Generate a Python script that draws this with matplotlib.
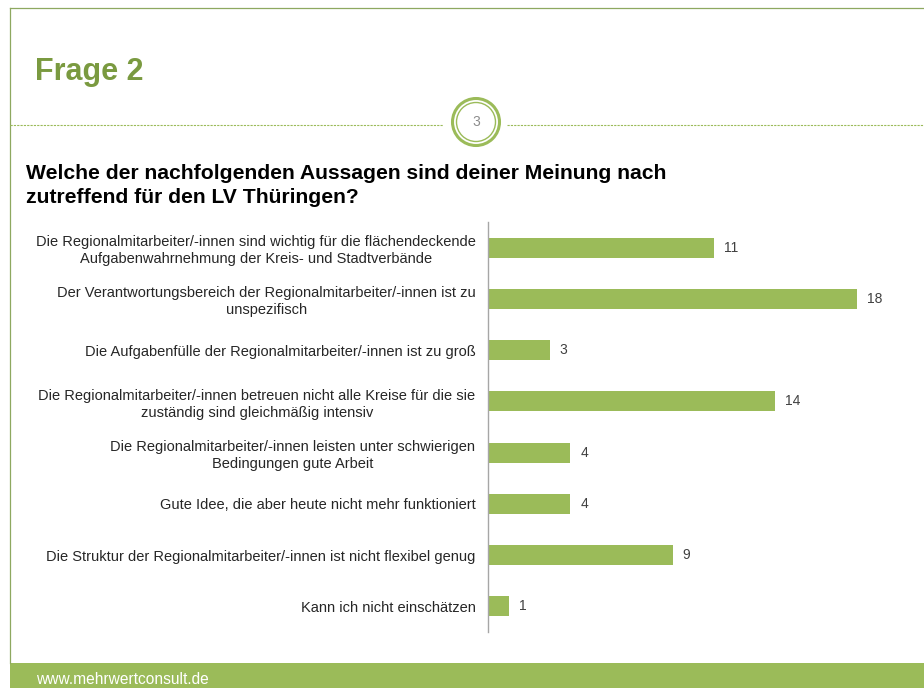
import matplotlib.pyplot as plt
from matplotlib.patches import Circle, Rectangle
from matplotlib.lines import Line2D

# --- Data ---
statements = [
    'Die Regionalmitarbeiter/-innen sind wichtig für die flächendeckende\nAufgabenwahrnehmung der Kreis- und Stadtverbände',
    'Der Verantwortungsbereich der Regionalmitarbeiter/-innen ist zu\nunspezifisch',
    'Die Aufgabenfülle der Regionalmitarbeiter/-innen ist zu groß',
    'Die Regionalmitarbeiter/-innen betreuen nicht alle Kreise für die sie\nzuständig sind gleichmäßig intensiv',
    'Die Regionalmitarbeiter/-innen leisten unter schwierigen\nBedingungen gute Arbeit',
    'Gute Idee, die aber heute nicht mehr funktioniert',
    'Die Struktur der Regionalmitarbeiter/-innen ist nicht flexibel genug',
    'Kann ich nicht einschätzen',
]
counts = [11, 18, 3, 14, 4, 4, 9, 1]

slide_title = 'Frage 2'
slide_number = '3'
question = 'Welche der nachfolgenden Aussagen sind deiner Meinung nach\nzutreffend für den LV Thüringen?'
footer = 'www.mehrwertconsult.de'

# --- Style ---
plt.rcParams['font.family'] = ['Liberation Sans', 'DejaVu Sans']
BAR_GREEN = '#9BBB59'
TITLE_GREEN = '#7A9A40'
W, H = 924, 688


def fx(px):
    return px / W


def fy(py):
    return 1 - py / H


fig = plt.figure(figsize=(9.24, 6.88), dpi=100)
fig.patch.set_facecolor('white')

# slide frame: top and left border
fig.add_artist(Line2D([fx(10), fx(924)], [fy(8), fy(8)], color='#8EA860', lw=0.9))
fig.add_artist(Line2D([fx(10), fx(10)], [fy(8), fy(663)], color='#8EA860', lw=0.9))

# footer bar
fig.add_artist(Rectangle((fx(10), 0), fx(914), 25 / H, transform=fig.transFigure,
                         facecolor=BAR_GREEN, edgecolor='none'))
fig.text(fx(36), fy(680), footer, color='white', fontsize=11.2, va='center', ha='left')

# title
fig.text(fx(35), fy(80), slide_title, color=TITLE_GREEN, fontsize=22,
         fontweight='bold', va='baseline', ha='left')

# dashed separator with numbered circle
fig.add_artist(Line2D([fx(10), fx(443)], [fy(125), fy(125)], color='#9BBB59',
                      lw=0.8, linestyle=(0, (2, 1))))
fig.add_artist(Line2D([fx(507), fx(924)], [fy(125), fy(125)], color='#9BBB59',
                      lw=0.8, linestyle=(0, (2, 1))))
ax_c = fig.add_axes([fx(450), fy(148), fx(52), 52 / H])
ax_c.set_xlim(-26, 26)
ax_c.set_ylim(-26, 26)
ax_c.set_aspect('equal')
ax_c.axis('off')
ax_c.add_patch(Circle((0, 0), 23.5, facecolor='white', edgecolor=BAR_GREEN, lw=2.2))
ax_c.add_patch(Circle((0, 0), 19.5, facecolor='white', edgecolor=BAR_GREEN, lw=1.0))
ax_c.text(0, 0, slide_number, color='#8C8C8C', fontsize=10, ha='center', va='center')

# question (baseline of the last line)
fig.text(fx(26), fy(203), question, color='black', fontsize=15.2, fontweight='bold',
         va='baseline', ha='left', linespacing=1.35)

# --- Bar chart ---
ax = fig.add_axes([fx(488), fy(632), fx(410), 410 / H])
y_pos = list(range(len(counts)))
ax.barh(y_pos, counts, height=0.39, color=BAR_GREEN)
ax.set_xlim(0, 20)
ax.set_ylim(len(counts) - 0.5, -0.5)

for y, v in zip(y_pos, counts):
    ax.text(v + 0.5, y, str(v), va='center', ha='left', fontsize=10, color='#404040')

ax.set_yticks(y_pos)
ax.set_yticklabels(statements, fontsize=10.5, color='#262626', multialignment='center',
                   linespacing=1.25)
ax.tick_params(axis='y', length=0, pad=9)
ax.set_xticks([])
for side in ['top', 'right', 'bottom']:
    ax.spines[side].set_visible(False)
ax.spines['left'].set_color('#A6A6A6')
ax.spines['left'].set_linewidth(1.0)
ax.set_facecolor('none')

fig.savefig('out.png', dpi=100)
